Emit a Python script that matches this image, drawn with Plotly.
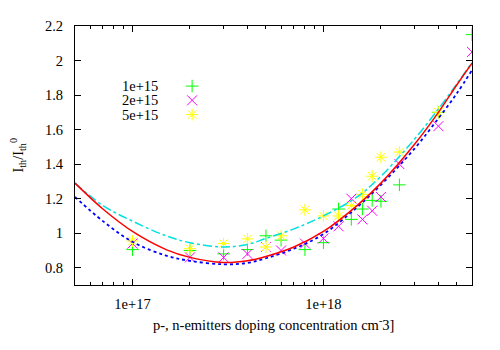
import plotly.graph_objects as go

# measured points, doping concentration in cm^-3
conc = [1e17, 2e17, 3e17, 4e17, 5e17, 6e17, 8e17, 1e18, 1.2e18, 1.4e18,
        1.6e18, 1.8e18, 2e18, 2.5e18, 4e18, 6e18]
ratio_1e15 = [0.905, 0.90, 0.88, 0.905, 0.985, 0.96, 0.905, 0.945, 1.14, 1.08,
              1.14, 1.19, 1.185, 1.28, 1.70, 2.15]
ratio_2e15 = [0.94, 0.86, 0.86, 0.88, 0.92, 0.90, 0.94, 0.97, 1.04, 1.20,
              1.08, 1.13, 1.21, 1.40, 1.62, 2.05]
ratio_5e15 = [0.955, 0.91, 0.94, 0.967, 0.92, 0.985, 1.135, 1.10, 1.10, 1.16,
              1.225, 1.33, 1.44, 1.47, 1.70, None]

# fitted curves
fit_x = [5e16, 7e16, 1e17, 1.5e17, 2e17, 3e17, 4e17, 5e17, 7e17, 1e18,
         1.5e18, 2e18, 3e18, 4e18, 5e18, 6e18]
fit_red = [1.29, 1.14, 1.01, 0.905, 0.86, 0.83, 0.84, 0.865, 0.92, 1.01,
           1.16, 1.29, 1.515, 1.70, 1.86, 1.985]
fit_blue = [1.21, 1.07, 0.95, 0.87, 0.84, 0.82, 0.828, 0.855, 0.91, 0.995,
            1.15, 1.28, 1.49, 1.665, 1.81, 1.945]
fit_cyan = [1.29, 1.16, 1.07, 0.985, 0.945, 0.92, 0.935, 0.97, 1.025, 1.10,
            1.21, 1.33, 1.545, 1.72, 1.865, 1.99]

legend_names = ['1e+15', '2e+15', '5e+15']
xticks = [1e17, 1e18]
xtick_text = ['1e+17', '1e+18']
minor_x = [6e16, 7e16, 8e16, 9e16, 2e17, 3e17, 4e17, 5e17, 6e17, 7e17, 8e17, 9e17,
           2e18, 3e18, 4e18, 5e18]

FONT = 'Liberation Serif, Times New Roman, serif'
FS = 14.5
styles = [
    dict(symbol='cross-thin', size=9, line=dict(color='#00ff00', width=1), color='#00ff00'),
    dict(symbol='x-thin', size=10, line=dict(color='#ff00ff', width=1), color='#ff00ff'),
    dict(symbol='asterisk', size=10, line=dict(color='#ffff00', width=1), color='#ffff00'),
]

fig = go.Figure()
for ys, st in zip([ratio_1e15, ratio_2e15, ratio_5e15], styles):
    fig.add_trace(go.Scatter(x=conc, y=ys, mode='markers', marker=st,
                             showlegend=False, cliponaxis=True))

fig.add_trace(go.Scatter(x=fit_x, y=fit_cyan, mode='lines', showlegend=False,
                         line=dict(color='#00e0e0', width=1.5, dash='dashdot', shape='spline')))
fig.add_trace(go.Scatter(x=fit_x, y=fit_blue, mode='lines', showlegend=False,
                         line=dict(color='#0000ff', width=1.8, dash='dot', shape='spline')))
fig.add_trace(go.Scatter(x=fit_x, y=fit_red, mode='lines', showlegend=False,
                         line=dict(color='#ff0000', width=1.5, shape='spline')))

# hand made key: text on the left, sample on the right (gnuplot style)
key_y = [0.768, 0.713, 0.658]
for name, ky, st in zip(legend_names, key_y, styles):
    fig.add_trace(go.Scatter(x=[0.295], y=[ky], xaxis='x2', yaxis='y2', mode='markers',
                             marker=st, showlegend=False, hoverinfo='skip'))
    fig.add_annotation(x=0.214, y=ky, xref='paper', yref='paper', text=name,
                       showarrow=False, xanchor='right', yanchor='middle',
                       font=dict(family=FONT, size=FS, color='black'))

fig.add_annotation(x=0.5, y=-0.152, xref='paper', yref='paper',
                   text='p-, n-emitters doping concentration cm<sup>-</sup>3]',
                   showarrow=False, xanchor='center', yanchor='middle',
                   font=dict(family=FONT, size=FS, color='black'))
fig.add_annotation(x=-0.146, y=0.5, xref='paper', yref='paper', textangle=-90,
                   text='I<sub>th</sub>/I<sub>th</sub><sup>0</sup>',
                   showarrow=False, xanchor='center', yanchor='middle',
                   font=dict(family=FONT, size=FS, color='black'))

# the page body adds an 8px offset, so the figure is shrunk to fit the window
fig.update_layout(
    width=492, height=342,
    margin=dict(l=67, r=28, t=10, b=65),
    paper_bgcolor='white', plot_bgcolor='white',
    font=dict(family=FONT, size=FS, color='black'),
    xaxis=dict(type='log', range=[16.699, 18.778], showline=True, linecolor='black',
               linewidth=1, mirror='allticks', ticks='inside', ticklen=6,
               tickcolor='black', tickvals=xticks, ticktext=xtick_text,
               showgrid=False, zeroline=False, ticklabelstandoff=6,
               minor=dict(ticks='inside', ticklen=3, tickcolor='black',
                          tickvals=minor_x, showgrid=False)),
    yaxis=dict(range=[0.7, 2.2], tick0=0.8, dtick=0.2, showline=True, linecolor='black',
               linewidth=1, mirror='allticks', ticks='inside', ticklen=6,
               tickcolor='black', showgrid=False, zeroline=False, ticklabelstandoff=8),
    xaxis2=dict(overlaying='x', range=[0, 1], visible=False),
    yaxis2=dict(overlaying='y', range=[0, 1], visible=False),
)

fig.write_html('out.html')
